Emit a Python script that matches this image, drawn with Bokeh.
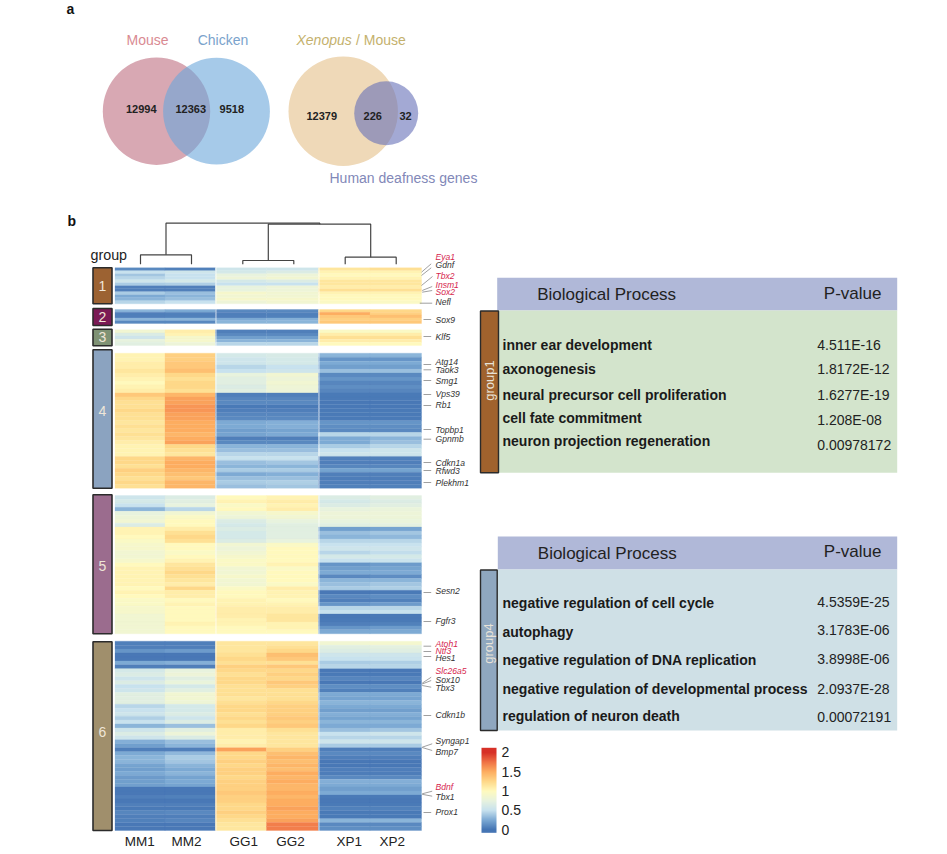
from bokeh.plotting import figure
from bokeh.models import ColumnDataSource, LinearColorMapper, ColorBar, FixedTicker
from bokeh.core.properties import value
from bokeh.embed import file_html
from bokeh.resources import INLINE
import numpy as np

samples = ["MM1", "MM2", "GG1", "GG2", "XP1", "XP2"]

g1_MM1 = [.1,.5,.38,.45,.55,.4,.05,.05,.4,.25,.3,.45]
g1_MM2 = [.06,.55,.5,.5,.6,.42,.05,.05,.35,.3,.35,.5]
g1_GG1 = [.55,.6,.75,.8,.6,.5,.75,.75,.9,.85,.9,.8]
g1_GG2 = [.55,.65,.8,.85,.65,.5,.8,.8,.85,.85,.9,.85]
g1_XP1 = [1.15,1.05,1.0,1.05,1.15,1.15,1.1,1.2,1.05,1.0,1.0,.95]
g1_XP2 = [1.2,1.05,1.0,1.05,1.15,1.15,1.1,1.2,1.05,1.0,1.0,.95]

g2_MM1 = [.3,.05,.05,.3,.1]
g2_MM2 = [.25,.06,.06,.3,.1]
g2_GG1 = [.1,.05,.05,.25,.3]
g2_GG2 = [.1,.06,.06,.28,.3]
g2_XP1 = [1.25,1.5,1.35,1.3,1.35]
g2_XP2 = [1.25,1.3,1.4,1.3,1.35]

g3_MM1 = [.85,.65,.55,.75,.7]
g3_MM2 = [1.1,1.05,.9,.9,.8]
g3_GG1 = [.05,.1,.2,.3,.45]
g3_GG2 = [.05,.1,.2,.3,.45]
g3_XP1 = [.95,1.1,1.2,1.1,1.0]
g3_XP2 = [.95,1.1,1.2,1.1,1.0]

g4_MM1 = [1.05,1.05,1.1,1.1,1.15,1.1,1.05,1.0,1.05,1.1,1.35,1.25,1.2,1.2,1.25,1.2,1.2,1.15,1.2,1.15,1.2,1.15,1.1,1.05,1.05,1.05,1.25,1.25,1.2,1.3,1.25,1.2,1.25,1.2]
g4_MM2 = [1.3,1.3,1.35,1.35,1.4,1.25,1.2,1.25,1.25,1.2,1.45,1.55,1.55,1.6,1.6,1.55,1.55,1.5,1.5,1.5,1.45,1.5,1.55,1.25,1.2,1.15,1.45,1.5,1.5,1.45,1.4,1.35,1.45,1.45]
g4_GG1 = [.6,.55,.55,.45,.5,.75,.7,.7,.65,.7,.05,.08,.1,.03,.05,.08,.1,.25,.25,.2,.22,.05,.1,.3,.35,.45,.5,.35,.3,.4,.25,.35,.4,.35]
g4_GG2 = [.62,.6,.6,.5,.55,.85,.8,.85,.82,.8,.05,.08,.1,.03,.05,.08,.1,.28,.28,.22,.25,.05,.1,.3,.35,.45,.5,.38,.3,.4,.28,.35,.42,.38]
g4_XP1 = [.3,.15,.25,.2,.35,.1,.15,.08,.12,.08,.03,.03,.02,.02,.03,.03,.03,.15,.12,.1,.45,.25,.25,.4,.5,.55,.06,.05,.08,.22,.05,.04,.05,.06]
g4_XP2 = [.3,.15,.25,.2,.35,.1,.15,.08,.12,.08,.03,.03,.02,.02,.03,.03,.03,.15,.12,.1,.45,.3,.35,.45,.55,.55,.06,.05,.08,.22,.05,.04,.05,.06]

g5_MM1 = [.55,.6,.5,.3,.75,.8,.85,.65,1.05,1.05,1.0,.95,.9,.9,.85,.85,.9,1.0,1.05,1.05,1.05,1.05,1.05,1.0,1.05,1.0,.95,.95,.9,.9,.85,.85,.85,.85,.85]
g5_MM2 = [.65,.7,.75,.45,.85,.95,1.0,1.0,1.1,1.2,1.25,1.2,1.0,1.0,.95,1.0,1.05,1.15,1.2,1.25,1.2,1.15,1.1,1.25,1.1,1.1,1.0,1.05,1.0,1.0,1.0,1.0,1.05,1.0,1.0]
g5_GG1 = [1.0,1.05,.95,1.0,.85,.8,.65,.6,.65,.6,.6,.65,.85,.8,.85,.9,.95,.95,.85,.85,.9,.85,.85,.95,1.0,1.0,1.05,1.05,1.1,1.1,1.1,1.05,1.05,1.0,1.0]
g5_GG2 = [1.05,1.1,1.05,1.1,.9,.85,.75,.7,.7,.7,.7,.75,.95,1.0,1.0,1.0,1.0,1.05,.95,1.0,1.0,1.0,.95,1.1,1.05,1.05,1.0,1.05,1.1,1.1,1.15,1.15,1.05,1.05,1.0]
g5_XP1 = [.65,.6,.65,.75,.8,.8,.75,.7,.2,.35,.3,.45,.5,.55,.45,.6,.5,.15,.2,.25,.1,.3,.35,.4,.02,.1,.05,.15,.45,.5,.02,.03,.05,.15,.25]
g5_XP2 = [.7,.65,.7,.78,.8,.8,.78,.72,.22,.38,.32,.45,.5,.55,.48,.6,.52,.18,.22,.25,.12,.3,.38,.42,.03,.12,.06,.18,.45,.5,.03,.03,.06,.18,.25]

g6_MM1 = [.05,.05,.15,.02,.02,.25,.05,.6,.65,.55,.65,.5,.55,.7,.7,.7,.45,.5,.55,.42,.5,.3,.55,.65,.55,.28,.2,.05,.25,.3,.3,.22,.2,.25,.18,.2,.2,.02,.02,.05,.02,.05,.03,.08,.05,.06,.02,.02]
g6_MM2 = [.05,.05,.18,.02,.02,.28,.05,.75,.8,.7,.78,.6,.7,.85,.85,.82,.6,.6,.65,.55,.65,.35,.7,.8,.65,.35,.3,.05,.32,.4,.38,.3,.25,.3,.22,.25,.22,.02,.02,.06,.02,.05,.03,.1,.05,.08,.02,.02]
g6_GG1 = [1.15,1.15,1.15,1.2,1.25,1.2,1.3,1.25,1.2,1.25,1.25,1.2,1.2,1.2,1.15,1.2,1.25,1.25,1.2,1.25,1.2,1.25,1.1,1.1,1.1,1.05,1.1,1.55,1.25,1.25,1.3,1.25,1.3,1.3,1.25,1.3,1.3,1.3,1.35,1.3,1.3,1.25,1.25,1.3,1.25,1.2,1.15,1.15]
g6_GG2 = [1.15,1.2,1.25,1.4,1.35,1.2,1.35,1.25,1.3,1.25,1.35,1.3,1.2,1.2,1.2,1.25,1.3,1.3,1.3,1.35,1.3,1.35,1.2,1.15,1.15,1.15,1.15,1.3,1.4,1.45,1.4,1.45,1.4,1.5,1.45,1.5,1.45,1.45,1.5,1.45,1.5,1.5,1.55,1.5,1.5,1.55,1.7,1.7]
g6_XP1 = [.85,.7,.65,.55,.5,.4,.45,.02,.03,.08,.02,.12,.06,.25,.22,.3,.25,.2,.28,.22,.3,.25,.35,.5,.45,.55,.4,.05,.1,.05,.02,.02,.05,.04,.1,.28,.25,.2,.25,.03,.02,.03,.06,.03,.03,.3,.1,.12]
g6_XP2 = [.88,.72,.68,.55,.52,.42,.45,.02,.03,.08,.02,.12,.06,.25,.22,.3,.25,.2,.28,.22,.3,.25,.38,.55,.45,.55,.4,.05,.1,.05,.02,.02,.05,.04,.1,.28,.25,.2,.25,.03,.02,.03,.06,.03,.03,.3,.1,.12]

group_names = ["1", "2", "3", "4", "5", "6"]
group_colors = ["#9c6232", "#7b1a55", "#7f9274", "#8ba3c0", "#9b6c8e", "#a08f6c"]
groups = [
    [g1_MM1, g1_MM2, g1_GG1, g1_GG2, g1_XP1, g1_XP2],
    [g2_MM1, g2_MM2, g2_GG1, g2_GG2, g2_XP1, g2_XP2],
    [g3_MM1, g3_MM2, g3_GG1, g3_GG2, g3_XP1, g3_XP2],
    [g4_MM1, g4_MM2, g4_GG1, g4_GG2, g4_XP1, g4_XP2],
    [g5_MM1, g5_MM2, g5_GG1, g5_GG2, g5_XP1, g5_XP2],
    [g6_MM1, g6_MM2, g6_GG1, g6_GG2, g6_XP1, g6_XP2],
]

genes = ["Eya1","Gdnf","Tbx2","Insm1","Sox2","Nefl","Sox9","Klf5","Atg14","Taok3","Smg1","Vps39","Rb1","Topbp1","Gpnmb","Cdkn1a","Rfwd3","Plekhm1","Sesn2","Fgfr3","Atoh1","Ntf3","Hes1","Slc26a5","Sox10","Tbx3","Cdkn1b","Syngap1","Bmp7","Bdnf","Tbx1","Prox1"]
red_genes = ["Eya1","Tbx2","Insm1","Sox2","Atoh1","Ntf3","Slc26a5","Bdnf"]

venn1_labels = ["12994", "12363", "9518"]
venn2_labels = ["12379", "226", "32"]

terms1 = ["inner ear development","axonogenesis","neural precursor cell proliferation","cell fate commitment","neuron projection regeneration"]
pvals1 = ["4.511E-16","1.8172E-12","1.6277E-19","1.208E-08","0.00978172"]
terms4 = ["negative regulation of cell cycle","autophagy","negative regulation of DNA replication","negative regulation of developmental process","regulation of neuron death"]
pvals4 = ["4.5359E-25","3.1783E-06","3.8998E-06","2.0937E-28","0.00072191"]

# ---------- layout (page pixels) ----------
FONT = value("Liberation Sans")
W, H = 947, 854
p = figure(width=W, height=H, x_range=(0, W), y_range=(H, 0), output_backend="svg",
           toolbar_location=None, min_border=0, outline_line_color=None, background_fill_color="white")
p.axis.visible = False
p.grid.visible = False

def txt(x, y, s, size, color="#222222", style="normal", align="left", base="middle", angle=0):
    p.text([x], [y], text=[s], text_font=FONT, text_font_size=value(f"{size}px"), text_color=color,
           text_font_style=style, text_align=align, text_baseline=base, angle=angle)

def box(l, r, t, b, color, line=None, lw=1.5):
    p.quad(left=[l], right=[r], top=[t], bottom=[b], fill_color=color, line_color=line, line_width=lw)

# ---------- panel letters ----------
txt(66, 8, "a", 14, "#111111", "bold")
txt(67, 220, "b", 14, "#111111", "bold")

# ---------- venn ----------
p.circle([156], [110.7], radius=53.7, fill_color="#d8a8b3", line_color=None)
p.circle([216], [110.7], radius=53.4, fill_color="#6ba7da", fill_alpha=0.6, line_color=None)
p.circle([342.7], [110.8], radius=54.7, fill_color="#efd9b8", line_color=None)
p.circle([385.7], [112.7], radius=32, fill_color="#6670b8", fill_alpha=0.6, line_color=None)
for x, s in zip([140.7, 190.3, 231.3], venn1_labels):
    txt(x, 108.5, s, 11, "#222222", "bold", "center")
for x, s in zip([321.3, 372.3, 405], venn2_labels):
    txt(x, 115, s, 11, "#222222", "bold", "center")
txt(147, 39, "Mouse", 14, "#d98a92", align="center")
txt(222.5, 39, "Chicken", 14, "#7ba3cc", align="center")
txt(296, 39.5, "Xenopus", 14, "#c4b16d", "italic")
txt(355.5, 39.5, "/ Mouse", 14, "#c4b16d")
txt(329, 177, "Human deafness genes", 14, "#8288b8")

# ---------- heat map ----------
col_edges = [114.5, 164.5, 215, 266, 318, 369.5, 421]
group_tops = [267.3, 309, 329.3, 352.7, 495, 640.7]
group_bottoms = [303.3, 323, 345, 487.7, 633.3, 830]
bar_tops = [267.3, 308, 328.7, 349.3, 494.3, 641.3]
bar_bottoms = [303.3, 325, 345.3, 487.7, 633.3, 830]
group_label_y = [285, 316.7, 336.7, 410, 565, 731.7]
stops = [(0.0, (69,117,180)), (0.25, (125,170,212)), (0.5, (200,226,238)), (0.75, (232,243,222)),
         (1.0, (255,250,190)), (1.25, (254,217,138)), (1.5, (253,174,97)), (1.75, (240,115,70)), (2.0, (215,48,39))]
pos = [s[0] for s in stops]
def make_palette(lo, hi):
    out = []
    for t in np.linspace(lo, hi, 256):
        rgb = [int(round(np.interp(t, pos, [s[1][k] for s in stops]))) for k in range(3)]
        out.append("#%02x%02x%02x" % tuple(rgb))
    return out
mapper = LinearColorMapper(palette=make_palette(0, 2), low=0, high=2)

L, R, T, B, V = [], [], [], [], []
for gi, cols in enumerate(groups):
    for ci, vals in enumerate(cols):
        n = len(vals)
        h = (group_bottoms[gi] - group_tops[gi]) / n
        for ri, v in enumerate(vals):
            L.append(col_edges[ci]); R.append(col_edges[ci + 1])
            T.append(group_tops[gi] + ri * h); B.append(group_tops[gi] + (ri + 1) * h); V.append(v)
p.quad(left="L", right="R", top="T", bottom="B", source=ColumnDataSource(dict(L=L, R=R, T=T, B=B, V=V)),
       fill_color={"field": "V", "transform": mapper}, line_color={"field": "V", "transform": mapper}, line_width=0.3)
# thin white gaps between the species blocks
p.segment(x0=[215.5, 318.5], x1=[215.5, 318.5], y0=[262, 262], y1=[832, 832], line_color="#ffffff", line_width=1, line_alpha=0.7)

# group bars
for gi, name in enumerate(group_names):
    box(92.5, 111.5, bar_tops[gi], bar_bottoms[gi], group_colors[gi], "#2b2b2b", 1.6)
    txt(102, group_label_y[gi], name, 14, "#efe6d8", align="center")
txt(90, 254, "group", 14.3, "#222222")

# column labels
for x, s in zip([139.3, 186, 243.3, 290, 348.7, 391.7], samples):
    txt(x, 840.7, s, 13.5, "#222222", align="center")

# dendrogram
dx = [[140,140,191,191],[242.3,242.3,293.3,293.3],[344.7,344.7,395.7,395.7],
      [165.5,165.5,319.3,319.3],[267.8,267.8,370.2,370.2]]
dy = [[263.7,254.3,254.3,263.7],[263.7,260,260,263.7],[263.7,256.7,256.7,263.7],
      [254.3,222.7,222.7,223.7],[260,223.7,223.7,256.7]]
p.multi_line(dx, dy, line_color="#444444", line_width=1.2)

# gene labels and leaders
gene_y = [256.7,264.3,275.7,284.7,291.7,301.7,319,336,361.7,369.3,380,393.7,404.3,429,438.7,462,470,482,590.7,620,643,650.3,657.3,670.7,679.3,687.3,714.7,740.7,751.7,786.7,796,811.3]
lead_x0 = [421,421,421,421.7,421.7,419.3,423,423,423,423,423,423,423,423,423,423,423,423,423,423,423,423,423,421.7,421.7,421.7,423,421.7,421.7,421.7,421.7,423]
lead_y0 = [271.7,275,285,290,291.7,302.7,319,336,364,369.3,380,394,405,429,438.7,462,470,482,592,621,645.7,651,656,682.7,683.5,685,715,746.7,747,793.3,793.8,812]
lead_x1 = [430.7,430.7,432,431.7,431.7,431.7,430.7,430.7,430.7,430.7,430.7,430.7,430.7,430.7,430.7,430.7,430.7,430.7,430.7,430.7,430.7,430.7,430.7,430.7,430.7,430.7,430.7,431.7,431.7,431.7,431.7,430.7]
lead_y1 = [263.3,267.3,276,286,290,302.7,319,336,364,369.3,380,394,405,429,438.7,462,470,482,592,621,645.7,651,656,676.7,680,686.7,715,743.3,750,790.7,795.7,812]
p.segment(x0=lead_x0, y0=lead_y0, x1=lead_x1, y1=lead_y1, line_color="#777777", line_width=0.7)
for g, y in zip(genes, gene_y):
    txt(435, y, g, 8.6, "#d6264e" if g in red_genes else "#333333", "italic")

# colour bar: the tick for 2 sits 4.7px below the bar's top, the tick for 0 3.3px above its bottom
cb_low, cb_high = -0.08, 2.12
cb_mapper = LinearColorMapper(palette=make_palette(cb_low, cb_high), low=cb_low, high=cb_high)
cb = ColorBar(color_mapper=cb_mapper, location=(481, H - 832.3), width=15, height=85,
              ticker=FixedTicker(ticks=[0, 0.5, 1, 1.5, 2]), major_label_overrides={0: "0", 0.5: "0.5", 1: "1", 1.5: "1.5", 2: "2"},
              major_tick_line_color=None, bar_line_color=None, border_line_color=None, background_fill_color=None,
              padding=0, margin=0, label_standoff=5, major_label_text_font="Liberation Sans",
              major_label_text_font_size="14px", major_label_text_color="#222222")
p.add_layout(cb)

# tables
def table(top, mid, bot, hdr_left, body_color, bar_color, bar_r, label, label_y, hx, hy1, py1, terms, pvals, ty, py):
    box(hdr_left, 896.7, top, mid, "#b0b8d8")
    box(bar_r, 896.7, mid, bot, body_color)
    box(480, bar_r, mid + 0.5, bot, bar_color, "#2b2b2b", 1.4)
    txt((480 + bar_r) / 2, label_y, label, 13, "#e8e2d8", align="center", angle=np.pi / 2)
    txt(hx, hy1, "Biological Process", 17, "#222222")
    txt(823.3, py1, "P-value", 17, "#222222")
    for s, y in zip(terms, ty):
        txt(502, y, s, 14, "#1a1a1a", "bold")
    for s, y in zip(pvals, py):
        txt(816.7, y, s, 14, "#222222")

table(277.3, 310, 472.3, 496.7, "#d3e4cc", "#a0622d", 498, "group1", 380, 536.7, 294.3, 293.3,
      terms1, pvals1, [344, 368.3, 394, 417.3, 440.7], [344, 368.7, 394, 419, 444])
table(536, 569, 730, 497.3, "#cfe0e6", "#8fa7bf", 496.7, "group4", 643, 537.3, 552.7, 551.3,
      terms4, pvals4, [602, 631, 659.7, 688, 715.3], [601, 629.3, 658.3, 688.3, 716])

open("out.html", "w").write(file_html(p, INLINE))
